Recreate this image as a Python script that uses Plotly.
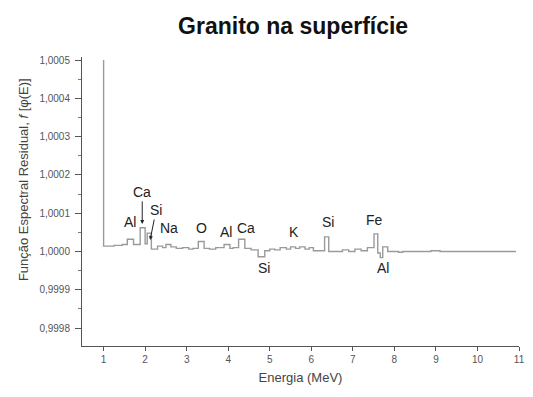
import plotly.graph_objects as go

# Step spectrum: bin start energies (MeV) and residual function values
energy = [1.00, 1.00, 1.25, 1.45, 1.57, 1.72, 1.88, 2.00, 2.05, 2.15, 2.30, 2.42, 2.50, 2.62,
          2.75, 2.90, 3.05, 3.15, 3.28, 3.42, 3.55, 3.70, 3.90, 4.04, 4.12, 4.25, 4.40,
          4.55, 4.72, 4.88, 5.00, 5.12, 5.25, 5.40, 5.50, 5.62, 5.72, 5.85, 5.95, 6.05,
          6.20, 6.32, 6.42, 6.75, 6.90, 7.05, 7.20, 7.35, 7.51, 7.60, 7.66, 7.72, 7.84,
          8.10, 8.20, 8.88, 9.10, 10.93]
offset_e6 = [500, 14, 16, 18, 32, 18, 62, 20, 48, 6, 14, 10, 18, 12,
             8, 10, 6, 8, 26, 8, 6, 10, 18, 8, 10, 32, 8,
             4, -14, 2, 6, 4, 10, 6, 12, 8, 12, 6, 10, 2,
             2, 38, 0, 4, 0, 6, 2, 10, 46, -4, -16, 12, 0,
             -2, 0, 2, 0, 0]
values = [1 + v * 1e-6 for v in offset_e6]

# Element labels: text, energy, value
label_text = ["Al", "Na", "O", "Al", "Ca", "Si", "K", "Si", "Fe", "Al"]
label_e = [1.64, 2.57, 3.35, 3.95, 4.42, 4.87, 5.58, 6.39, 7.53, 7.72]
label_v = [1.000078, 1.000060, 1.000060, 1.000052, 1.000060, 0.999958, 1.000050, 1.000078, 1.000083, 0.999958]

# Arrow labels: text, tip energy, tip value
arrow_text = ["Ca", "Si"]
arrow_e = [1.93, 2.12]
arrow_v = [1.000072, 1.000030]

ytick_vals = [0.9998, 0.9999, 1.0000, 1.0001, 1.0002, 1.0003, 1.0004, 1.0005]
xtick_vals = [1, 2, 3, 4, 5, 6, 7, 8, 9, 10, 11]

fig = go.Figure()
fig.add_trace(go.Scatter(x=energy, y=values, mode="lines", line_shape="hv",
                         line=dict(color="#9a9a9a", width=1.4), showlegend=False,
                         hoverinfo="skip"))

font_fam = "Liberation Sans, Arial, sans-serif"
for t, e, v in zip(label_text, label_e, label_v):
    fig.add_annotation(x=e, y=v, text=t, showarrow=False,
                       font=dict(family=font_fam, size=14, color="#222"))

offsets = [(0, -32), (6, -30)]
for t, e, v, (ax, ay) in zip(arrow_text, arrow_e, arrow_v, offsets):
    fig.add_annotation(x=e, y=v, text=t, showarrow=True, ax=ax, ay=ay,
                       arrowhead=2, arrowsize=0.8, arrowwidth=1, arrowcolor="#222",
                       standoff=0,
                       font=dict(family=font_fam, size=14, color="#222"))

# Y axis title placed as rotated annotation
fig.add_annotation(xref="paper", yref="paper", x=-0.135, y=0.574, textangle=-90,
                   text="Função Espectral Residual, <i>f</i> [φ(E)]", showarrow=False,
                   xanchor="center", yanchor="middle",
                   font=dict(family=font_fam, size=13, color="#444"))

fig.update_layout(
    width=533, height=397,
    margin=dict(l=82, r=8, t=57, b=51),
    paper_bgcolor="white", plot_bgcolor="white",
    separators=",.",
    title=dict(text="<b>Granito na superfície</b>", x=0.55, xanchor="center",
               xref="container", y=0.935, yanchor="middle",
               font=dict(family=font_fam, size=23, color="#111")),
    font=dict(family=font_fam, color="#444"),
    xaxis=dict(range=[0.48, 11.0], tickvals=xtick_vals, showgrid=False, zeroline=False,
               showline=True, linecolor="#555", linewidth=1, ticks="outside",
               ticklen=4, tickcolor="#555", tickfont=dict(size=10, color="#555"),
               title=dict(text="Energia (MeV)", font=dict(size=13, color="#444"), standoff=8)),
    yaxis=dict(range=[0.999753, 1.000508], tickvals=ytick_vals, tickformat=".4f",
               showgrid=False, zeroline=False, showline=True, linecolor="#555",
               linewidth=1, ticks="outside", ticklen=6, tickcolor="#555",
               ticklabelstandoff=3,
               tickfont=dict(size=10, color="#555"),
               minor=dict(ticks="outside", ticklen=3, tickcolor="#777", dtick=0.00005)),
)

fig.write_html("out.html")
